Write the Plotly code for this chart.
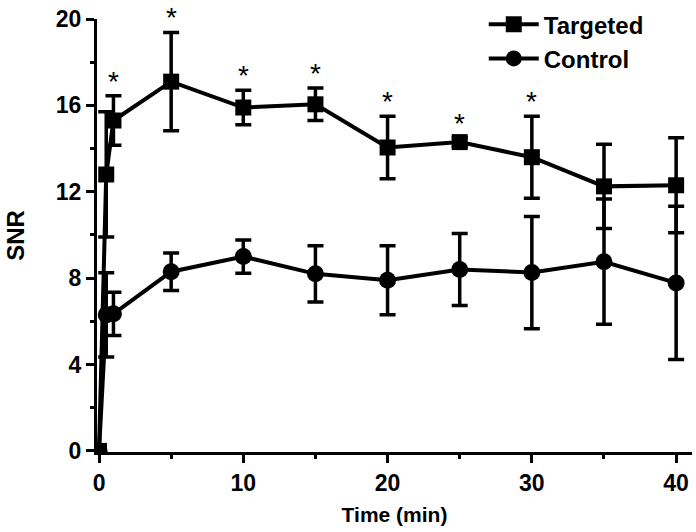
import plotly.graph_objects as go

time = [0, 0.5, 1, 5, 10, 15, 20, 25, 30, 35, 40]
targeted = [0, 12.8, 15.3, 17.1, 15.9, 16.05, 14.05, 14.3, 13.6, 12.25, 12.3]
targeted_err = [0, 2.9, 1.15, 2.28, 0.8, 0.75, 1.45, 0.2, 1.9, 1.95, 2.2]
control = [0, 6.3, 6.35, 8.3, 9.0, 8.2, 7.9, 8.4, 8.26, 8.76, 7.78]
control_err = [0, 1.95, 1.0, 0.87, 0.77, 1.3, 1.6, 1.67, 2.6, 2.9, 3.55]
sig_times = [1, 5, 10, 15, 20, 25, 30]

tick_font = dict(family="Liberation Sans, Arial", size=23, color="black", weight="bold")
title_font = dict(family="Liberation Sans, Arial", size=21, color="black", weight="bold")
bold_font = dict(family="Liberation Sans, Arial", size=24, color="black", weight="bold")

fig = go.Figure()
fig.add_trace(go.Scatter(
    x=time, y=targeted, name="Targeted", mode="lines+markers",
    line=dict(color="black", width=4),
    marker=dict(symbol="square", size=16, color="black"),
    error_y=dict(type="data", array=targeted_err, visible=True, color="black", thickness=3.5, width=8),
))
fig.add_trace(go.Scatter(
    x=time, y=control, name="Control", mode="lines+markers",
    line=dict(color="black", width=4),
    marker=dict(symbol="circle", size=17, color="black"),
    error_y=dict(type="data", array=control_err, visible=True, color="black", thickness=3.5, width=8),
))

for t in sig_times:
    i = time.index(t)
    fig.add_annotation(x=t, y=targeted[i] + targeted_err[i], text="*", showarrow=False,
                       yanchor="bottom", yshift=-3,
                       font=dict(family="Liberation Sans, Arial", size=28, color="black"))

fig.update_layout(
    width=696, height=532,
    margin=dict(l=97, r=4, t=19, b=80, autoexpand=False),
    paper_bgcolor="white", plot_bgcolor="white",
    showlegend=True,
    legend=dict(x=0.65, y=1.039, xanchor="left", yanchor="top", font=bold_font,
                bgcolor="rgba(0,0,0,0)", itemwidth=50, tracegroupgap=0),
    xaxis=dict(
        range=[-0.14, 41.1], showgrid=False, zeroline=False, automargin=False,
        showline=True, linecolor="black", linewidth=3,
        ticks="outside", ticklen=8, tickwidth=3, tickcolor="black",
        tickvals=[0, 10, 20, 30, 40], tickfont=tick_font,
        minor=dict(tickvals=[5, 15, 25, 35], ticks="outside", ticklen=4, tickwidth=3, tickcolor="black"),
        title=dict(text="Time (min)", font=title_font, standoff=13),
    ),
    yaxis=dict(
        range=[-0.05, 20], showgrid=False, zeroline=False, automargin=False,
        showline=True, linecolor="black", linewidth=3,
        ticks="outside", ticklen=8, tickwidth=3, tickcolor="black",
        tickvals=[0, 4, 8, 12, 16, 20], tickfont=tick_font,
        minor=dict(tickvals=[2, 6, 10, 14, 18], ticks="outside", ticklen=4, tickwidth=3, tickcolor="black"),
        title=dict(text="SNR", font=bold_font, standoff=25),
    ),
)

fig.write_html("out.html", config={"displayModeBar": False},
               post_script="document.body.style.margin='0';")
